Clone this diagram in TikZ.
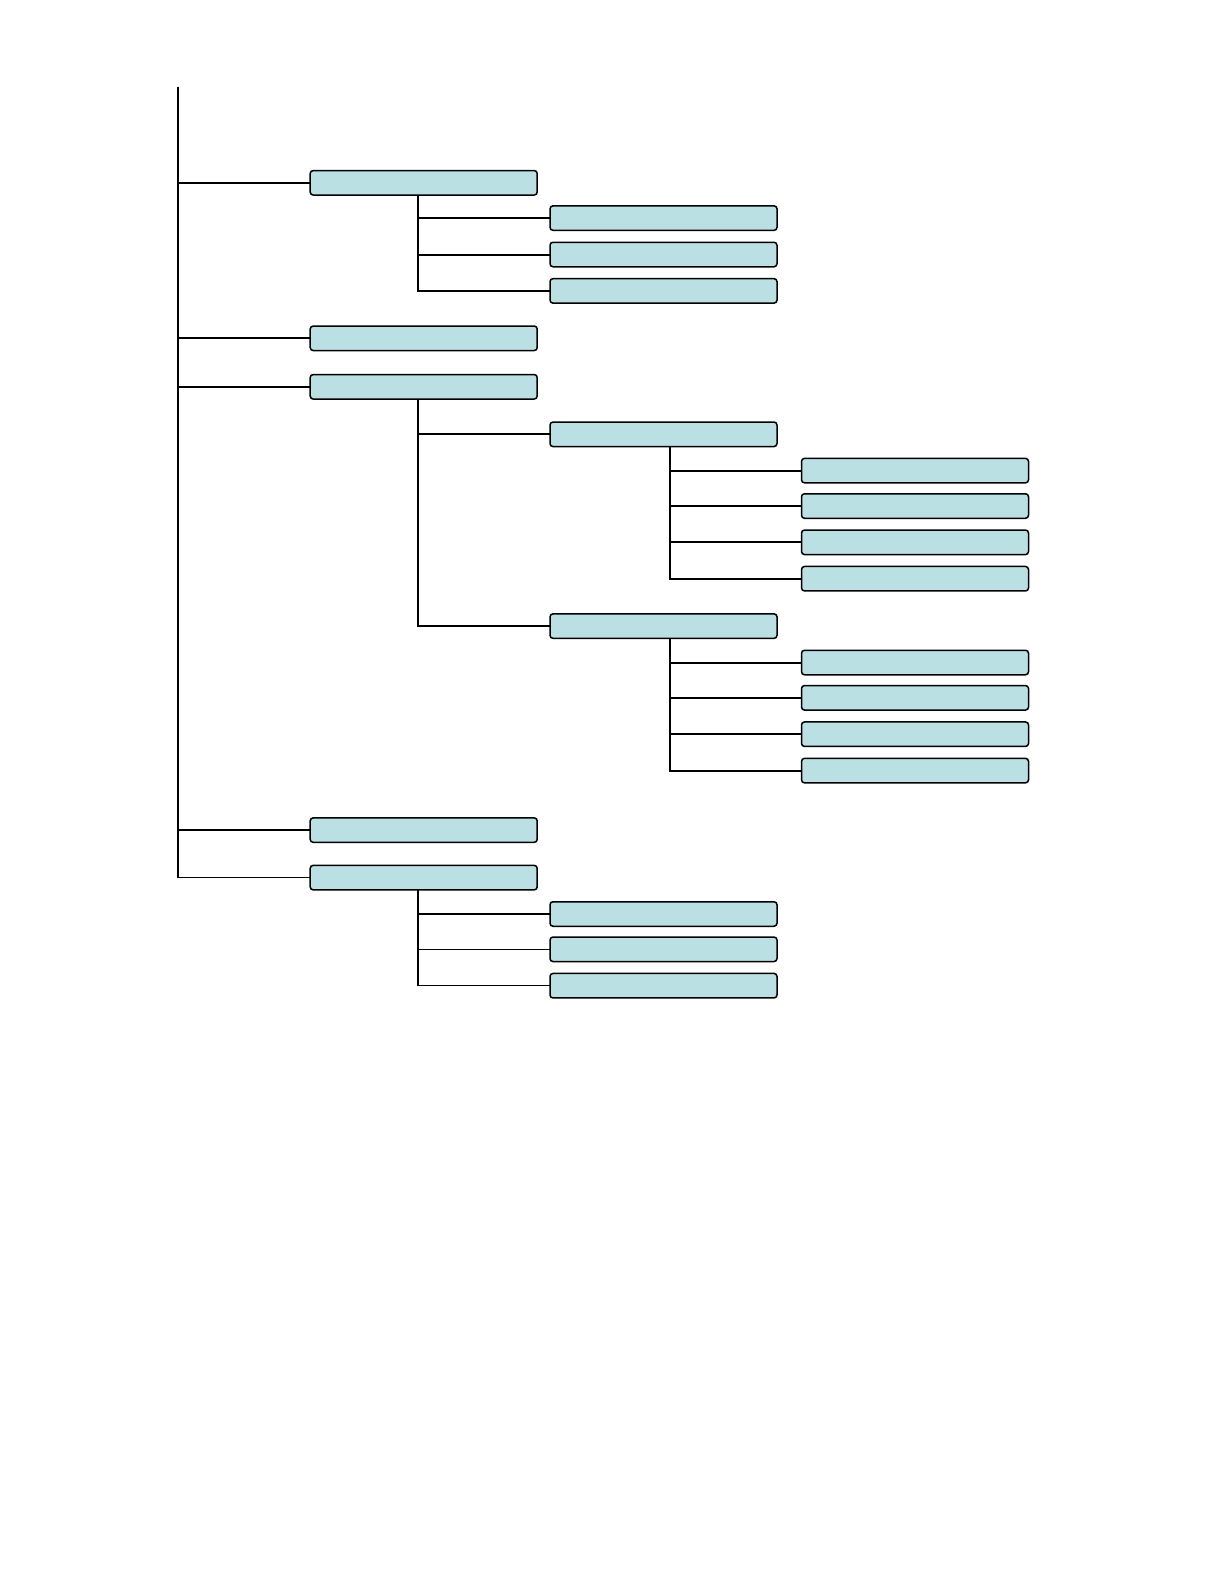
\documentclass[tikz,border=0pt]{standalone}
\begin{document}
\begin{tikzpicture}[x=1pt,y=-1pt,
  box/.style={draw=black,line width=1.5pt,rounded corners=3pt,fill={rgb,255:red,187;green,224;blue,227},
    minimum width=227pt,minimum height=24.5pt,inner sep=0pt,outer sep=0pt},
  thick line/.style={line width=2pt},
  thin line/.style={line width=1.3pt}]
\useasboundingbox (0,0) rectangle (1224,1584);
% level 1
\node[box] (b1) at (423.7,182.8) {};
\node[box] (b2) at (423.7,338.3) {};
\node[box] (b3) at (423.7,386.8) {};
\node[box] (b4) at (423.7,830.1) {};
\node[box] (b5) at (423.7,877.6) {};
% level 2 under b1
\node[box] (b1a) at (663.5,218.1) {};
\node[box] (b1b) at (663.5,254.5) {};
\node[box] (b1c) at (663.5,290.9) {};
% level 2 under b3
\node[box] (c1) at (663.5,434.3) {};
\node[box] (c2) at (663.5,626.1) {};
% level 3 under c1
\node[box] (c1a) at (915,470.6) {};
\node[box] (c1b) at (915,506.0) {};
\node[box] (c1c) at (915,542.3) {};
\node[box] (c1d) at (915,578.7) {};
% level 3 under c2
\node[box] (c2a) at (915,662.5) {};
\node[box] (c2b) at (915,697.8) {};
\node[box] (c2c) at (915,734.2) {};
\node[box] (c2d) at (915,770.6) {};
% level 2 under b5
\node[box] (b5a) at (663.5,914.0) {};
\node[box] (b5b) at (663.5,949.3) {};
\node[box] (b5c) at (663.5,985.7) {};
% junctions
\coordinate (root) at (177.7,86.9);
\path (b1.south) ++(-5.6,0) coordinate (j1);
\path (b3.south) ++(-5.6,0) coordinate (j3);
\path (b5.south) ++(-5.6,0) coordinate (j5);
\path (c1.south) ++(6.1,0) coordinate (k1);
\path (c2.south) ++(6.1,0) coordinate (k2);
% connectors
\draw[thick line] (root) |- (b1.west);
\draw[thick line] (root) |- (b2.west);
\draw[thick line] (root) |- (b3.west);
\draw[thick line] (root) |- (b4.west);
\draw[thick line] (root) -- (root |- b5.west);
\draw[thin line] (root |- b5.west) -- (b5.west);
\draw[thick line] (j1) |- (b1a.west);
\draw[thick line] (j1) |- (b1b.west);
\draw[thick line] (j1) |- (b1c.west);
\draw[thick line] (j3) |- (c1.west);
\draw[thick line] (j3) |- (c2.west);
\draw[thick line] (k1) |- (c1a.west);
\draw[thick line] (k1) |- (c1b.west);
\draw[thick line] (k1) |- (c1c.west);
\draw[thick line] (k1) |- (c1d.west);
\draw[thick line] (k2) |- (c2a.west);
\draw[thick line] (k2) |- (c2b.west);
\draw[thick line] (k2) |- (c2c.west);
\draw[thick line] (k2) |- (c2d.west);
\draw[thick line] (j5) -- (j5 |- b5c.west);
\draw[thin line] (j5 |- b5a.west) -- (b5a.west);
\draw[thin line] (j5 |- b5b.west) -- (b5b.west);
\draw[thin line] (j5 |- b5c.west) -- (b5c.west);
\end{tikzpicture}
\end{document}
